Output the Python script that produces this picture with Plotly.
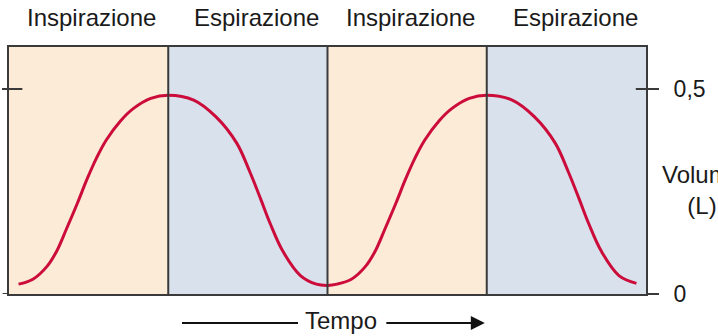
import plotly.graph_objects as go

# Phases of the breathing cycle (time in arbitrary units, one phase = 1)
phase_labels = ["Inspirazione", "Espirazione", "Inspirazione", "Espirazione"]
phase_start = [0, 1, 2, 3]
phase_end = [1, 2, 3, 4]

# Lung volume trace
tempo = [0.06, 0.15, 0.24, 0.30, 0.36, 0.43, 0.49, 0.55, 0.61, 0.70, 0.78, 0.89, 1.00,
         1.16, 1.30, 1.43, 1.51, 1.58, 1.64, 1.72, 1.83, 1.93, 2.00,
         2.06, 2.15, 2.24, 2.30, 2.36, 2.43, 2.49, 2.55, 2.61, 2.70, 2.78, 2.89, 3.00,
         3.16, 3.30, 3.43, 3.51, 3.58, 3.64, 3.72, 3.83, 3.94]
volume = [0.024, 0.036, 0.068, 0.105, 0.158, 0.222, 0.280, 0.332, 0.375, 0.422, 0.452, 0.477, 0.485,
          0.473, 0.432, 0.368, 0.300, 0.232, 0.172, 0.104, 0.045, 0.024, 0.021,
          0.024, 0.036, 0.068, 0.105, 0.158, 0.222, 0.280, 0.332, 0.375, 0.422, 0.452, 0.477, 0.485,
          0.473, 0.432, 0.368, 0.300, 0.232, 0.172, 0.104, 0.045, 0.026]

y_ticks = [0, 0.5]
y_tick_text = ["0", "0,5"]

COLORS = {
    'Inspirazione': '#fcebd7',
    'Espirazione': '#d8e1ec',
    'curve': '#cc0c3a',
    'frame': '#3a3a3a',
    'text': '#1a1a1a',
}
LABEL_SHIFT = {'Inspirazione': 3, 'Espirazione': 9}
FONT = "Liberation Sans, Arial, sans-serif"

fig = go.Figure()

fig.add_trace(go.Scatter(
    x=tempo, y=volume, mode='lines', line_shape='spline',
    line=dict(color=COLORS['curve'], width=3, smoothing=1.0),
    hoverinfo='skip', showlegend=False
))

# coloured phase backgrounds, dividers and labels
for label, x0, x1 in zip(phase_labels, phase_start, phase_end):
    fig.add_shape(type='rect', xref='x', yref='paper', x0=x0, x1=x1, y0=0, y1=1,
                  fillcolor=COLORS[label], line_width=0, layer='below')
    fig.add_annotation(x=(x0 + x1) / 2, xref='x', y=1.119, yref='paper',
                       xanchor='center', yanchor='middle',
                       text=label, showarrow=False, xshift=LABEL_SHIFT[label],
                       font=dict(size=24, color=COLORS['text'], family=FONT))
for x in phase_end[:-1]:
    fig.add_shape(type='line', xref='x', yref='paper', x0=x, x1=x, y0=0, y1=1,
                  line=dict(color=COLORS['frame'], width=2))

# ticks crossing the frame
for yv in y_ticks[1:]:
    fig.add_shape(type='line', xref='paper', yref='y', x0=0.984, x1=1, y0=yv, y1=yv,
                  line=dict(color=COLORS['frame'], width=2))
    fig.add_shape(type='line', xref='paper', yref='y', x0=-0.011, x1=0.021, y0=yv, y1=yv,
                  line=dict(color=COLORS['frame'], width=2))
fig.add_shape(type='line', xref='paper', yref='y', x0=-0.01, x1=0, y0=0, y1=0,
              line=dict(color=COLORS['frame'], width=2))

# time arrow
fig.add_shape(type='line', xref='paper', yref='paper', x0=0.2716, x1=0.4537,
              y0=-0.117, y1=-0.117, line=dict(color='#111111', width=2))
fig.add_annotation(x=0.747, y=-0.117, xref='paper', yref='paper', text='',
                   showarrow=True, ax=-100, ay=0, arrowhead=2, arrowsize=1.4,
                   arrowwidth=2, arrowcolor='#111111')
fig.add_annotation(x=0.521, y=-0.109, xref='paper', yref='paper', text='Tempo',
                   xanchor='center', yanchor='middle', showarrow=False,
                   font=dict(size=24, color=COLORS['text'], family=FONT))

fig.add_annotation(x=1.088, y=0.421, xref='paper', yref='paper', text='Volume<br>(L)',
                   xanchor='center', yanchor='middle', showarrow=False, align='center',
                   font=dict(size=24, color=COLORS['text'], family=FONT))

fig.update_layout(
    width=718, height=336,
    margin=dict(l=9, r=72, t=47, b=42, autoexpand=False),
    paper_bgcolor='white', plot_bgcolor='white',
    font=dict(family=FONT, color=COLORS['text'], size=23),
    xaxis=dict(range=[0, 4], showgrid=False, zeroline=False, showticklabels=False,
               showline=True, mirror=True, linecolor=COLORS['frame'], linewidth=2,
               ticks=''),
    yaxis=dict(range=[0, 0.6024], side='right', showgrid=False, zeroline=False,
               showline=True, mirror=True, linecolor=COLORS['frame'], linewidth=2,
               tickvals=y_ticks, ticktext=y_tick_text, ticks='outside', ticklen=11,
               tickwidth=2, tickcolor=COLORS['frame'], ticklabelstandoff=10,
               tickfont=dict(size=23, color=COLORS['text'], family=FONT)),
    showlegend=False,
)

# drop the page's default body margin so the figure sits at the window origin
fig.write_html("out.html", config={'displayModeBar': False},
               post_script="document.body.style.margin='0';")
